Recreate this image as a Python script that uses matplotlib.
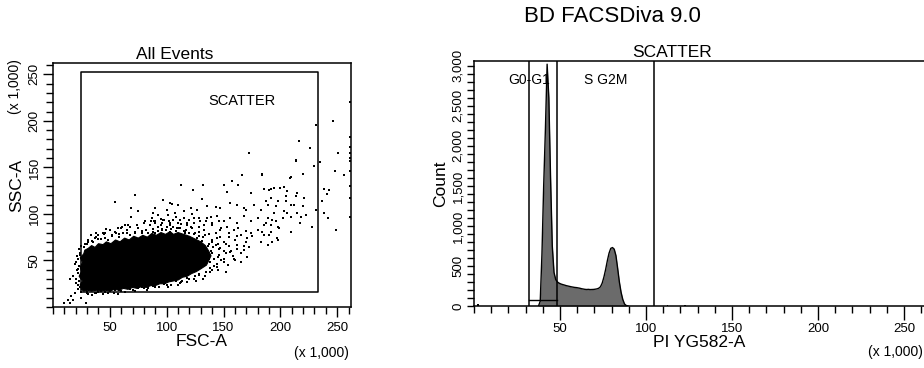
import numpy as np
import matplotlib.pyplot as plt
from matplotlib.ticker import MultipleLocator, FuncFormatter

plt.rcParams['font.family'] = ['Liberation Sans', 'DejaVu Sans']

# ---------------- data (channel values in thousands) ----------------
# dense core of the FSC/SSC cloud, outline
blob_fsc = [25, 24, 26, 23, 25, 24, 26, 24, 27, 28, 31,
            34, 37, 40, 44, 47, 51, 55, 59, 63, 67, 71, 75, 79, 83, 87, 91, 95, 99, 103, 106,
            110, 115, 120, 125, 130, 134, 137, 139, 137, 135, 130,
            126, 122, 118, 114, 110, 106, 102, 98, 94, 90, 86, 82, 78, 74, 70, 66, 62, 58,
            54, 50, 46, 42, 38, 34, 30, 27]
blob_ssc = [19, 24, 28, 33, 38, 43, 48, 53, 57, 61, 63,
            66, 64, 68, 67, 70, 68, 72, 70, 74, 72, 76, 74, 77, 75, 79, 77, 80, 78, 81, 78,
            80, 78, 76, 73, 70, 66, 60, 55, 50, 45, 41,
            38, 36, 33, 32, 29, 28, 27, 25, 25, 23, 23, 21, 22, 20, 21, 19, 20, 18,
            19, 17, 18, 17, 18, 17, 18, 17]

# single events on the edge of the core
edge_fsc = [28, 31, 35, 38, 42, 45, 48, 52, 55, 58, 62, 65, 68, 72, 75, 78, 82, 85, 88, 92,
            96, 99, 103, 106, 110, 113, 117, 121, 125, 128, 131,
            30, 34, 40, 44, 50, 54, 58, 63, 68, 72, 78, 84, 88, 93, 98, 104, 108, 113, 118,
            124, 128, 134, 138,
            22, 20, 21, 19, 21, 23, 25,
            134, 137, 139, 136, 142, 145, 33, 47, 61, 89, 116, 57, 83, 101,
            140, 143, 147, 150, 152, 155, 158, 160, 147, 143, 137, 133, 128, 124, 120, 115,
            108, 101, 95, 92, 86, 80, 74, 68, 63, 57, 50, 44, 38, 150, 154, 157, 162, 165,
            168, 170, 162, 155, 148, 140, 135, 128, 122, 145, 152, 160, 133, 118, 106, 112,
            98, 90, 155, 146, 139, 163, 170, 175, 172]
edge_ssc = [68, 72, 70, 75, 73, 78, 72, 77, 80, 75, 79, 83, 77, 81, 85, 79, 83, 88, 81, 86,
            90, 83, 88, 93, 85, 89, 83, 86, 80, 76, 71,
            15, 13, 16, 14, 17, 15, 18, 16, 19, 17, 21, 20, 23, 22, 25, 24, 28, 27, 31,
            30, 35, 33, 38,
            24, 30, 40, 46, 55, 62, 66,
            45, 52, 60, 66, 44, 54, 77, 84, 86, 92, 80, 14, 18, 21,
            72, 67, 63, 70, 58, 65, 55, 72, 75, 80, 78, 83, 86, 90, 93, 96,
            97, 99, 95, 99, 92, 90, 88, 86, 88, 85, 83, 80, 79, 48, 45, 60, 62, 58,
            66, 70, 76, 80, 85, 88, 92, 96, 100, 40, 38, 50, 88, 90, 86, 94,
            93, 90, 75, 92, 97, 85, 82, 76, 64]

# single events around the core and in the tail
events_fsc = [
    132, 134, 136, 133, 138, 140, 142, 135, 138, 144, 146, 141, 137, 130, 127, 124, 120, 115,
    112, 108, 104, 100, 96, 92, 128, 132, 120, 126, 112, 140, 148, 150, 145, 132, 118, 110,
    102, 95, 88, 84, 78, 72, 65, 58, 52, 46, 40, 34, 30, 27, 24, 22, 23, 22, 23, 24, 30, 38,
    46, 60, 70, 80, 90, 100, 110, 118,
    10, 13, 16, 14.6, 19, 17.5, 22, 25, 29, 31, 20.5, 17.5, 14.6, 22, 20.5, 23.5, 36.7, 42.6,
    48.5, 54.4, 75, 90, 98.7, 113.5, 125,
    31, 36.7, 39.6, 45.6, 54.4, 60, 66, 69, 75, 81, 87, 90, 103, 69, 72, 54.4,
    97, 104.6, 110, 88, 92.7, 100, 107.5, 115, 121, 126.7, 135.6, 143, 147, 156, 162, 168,
    169.5, 177, 182.7, 188.7, 196, 203, 209, 215, 205, 90, 97, 103, 112, 118, 123.7, 129.6,
    135.6, 140, 144.4, 150, 156, 162, 168, 174, 180, 187, 193, 197.5, 174, 180, 185.7, 191.6,
    197, 182.7, 188.7, 171, 165, 159, 153, 147, 162, 168, 156, 150, 159, 146, 140, 134, 128,
    122, 116, 109, 103, 95.7, 90, 144.4, 151.8, 138.5, 144.4, 165, 171,
    172, 214, 166.5, 184, 209, 112.5, 132, 150, 163, 157.7, 123, 153, 174, 190, 203, 215,
    131,
    246, 231, 216, 226, 251, 214, 230, 235, 248, 256, 208.7, 219.6, 238.8, 243, 241, 237,
    231, 238, 241.8, 249, 227.6, 217.5, 209, 221, 213.7, 206, 200, 194.5, 191.6, 185.7, 184,
    205, 197.5, 191.6, 187, 219.6, 212, 222.6, 218, 209, 202, 194.5, 196, 188.7, 185.7,
    191.6, 199, 190, 184, 193, 197.5, 205.8,
    261, 261, 261, 261, 261, 261, 261, 261, 261, 261]
events_ssc = [
    45, 50, 55, 62, 48, 58, 52, 38, 42, 46, 56, 64, 68, 70, 74, 78, 80, 82,
    85, 82, 84, 86, 84, 82, 34, 30, 30, 28, 26, 40, 50, 60, 68, 75, 88, 90,
    92, 88, 84, 80, 82, 80, 79, 78, 76, 74, 73, 71, 68, 64, 58, 52, 44, 36, 28, 22, 16, 15,
    16, 17, 18, 20, 22, 24, 24, 27,
    4.4, 8, 11.7, 4.4, 15, 8, 19, 9.8, 4.4, 13.5, 26, 33.6, 30, 40.8, 48, 55.5, 15, 17,
    15, 18, 20.8, 22.6, 26, 28, 33.6,
    70, 73.6, 77, 79, 81, 84.6, 88, 97, 103, 92, 95.5, 106.5, 112, 106.5, 120, 113,
    114.5, 111, 110, 101, 99, 104.7, 101, 103, 106.5, 104.7, 108, 107, 106.5, 112, 110, 106.5,
    104.7, 110, 104.7, 110, 108, 103, 110, 101, 114, 92, 93.8, 90, 93.8, 90, 95.5, 92,
    95.5, 90, 97.4, 92, 95.5, 90, 97.4, 92, 95.5, 90, 93.8, 86.4, 79, 82.8, 77, 81,
    73.6, 70, 66.4, 73.6, 77, 82.8, 86.4, 82.8, 66.4, 61, 59, 51.7, 51.7, 62.7, 70, 77, 81,
    84.6, 81, 84.6, 81, 82.8, 79, 73.6, 68, 48, 42.7, 48, 53.6,
    165.5, 157, 142, 142, 140, 131, 131, 131, 131, 135.6, 126, 123.6, 122, 126, 129, 122,
    116,
    199.5, 196, 178.7, 171, 165.5, 157.5, 152, 155.7, 146.6, 142, 139, 143, 126.6, 125.5, 121, 113.8,
    104.7, 101, 96, 82.8, 86.4, 90, 81, 117, 119, 124.7, 128, 128, 126.6, 126.6, 143,
    119, 114, 117, 114, 108, 110, 99, 97, 97, 95.5, 101, 92.7, 95.5, 88,
    88, 84.6, 77, 81, 70, 72, 101,
    220, 183, 172, 165, 157, 146.6, 130, 117, 97, 160]
gate_fsc = [25, 233]
gate_ssc = [16, 253]

# PI histogram, 1k wide bins starting at pi_first
pi_first = 37
pi_counts = [0, 60, 650, 1500, 2200, 3020, 2600, 1600, 750, 420, 330, 300, 285, 275,
             268, 262, 255, 250, 245, 240, 236, 232, 230, 226, 222, 216, 212, 208, 206,
             208, 205, 206, 207, 210, 214, 222, 240, 285, 360, 455, 565, 660, 720, 730,
             710, 630, 470, 300, 170, 80, 25, 6, 0]
stray_pi = [2, 112, 122]
stray_counts = [25, 12, 18]
g01_gate = [32, 48.3]
sg2m_gate = [48.3, 104.7]
g01_level = 75

W, H = 924, 368
fig = plt.figure(figsize=(W / 100, H / 100), dpi=100)


def box(x0, y0, x1, y1):
    return [x0 / W, 1 - y1 / H, (x1 - x0) / W, (y1 - y0) / H]


def style(ax):
    for s in ax.spines.values():
        s.set_linewidth(1.1)
    ax.tick_params(which='both', direction='out', width=1.0, labelsize=9.5)
    ax.tick_params(which='major', length=7)
    ax.tick_params(which='minor', length=5)


# ---------------- left: FSC vs SSC ----------------
ax1 = fig.add_axes(box(53, 63, 351, 307))
ax1.fill(blob_fsc, blob_ssc, color='black', lw=0.8)
ax1.plot(edge_fsc, edge_ssc, 's', color='black', ms=1.6, mew=0)
ax1.plot(events_fsc, events_ssc, 's', color='black', ms=1.5, mew=0, clip_on=False)
ax1.plot([gate_fsc[0], gate_fsc[1], gate_fsc[1], gate_fsc[0], gate_fsc[0]],
         [gate_ssc[0], gate_ssc[0], gate_ssc[1], gate_ssc[1], gate_ssc[0]],
         color='black', lw=1.1)
ax1.text(166, 221, 'SCATTER', ha='center', va='center', fontsize=10.5)
ax1.set_xlim(0, 262.144)
ax1.set_ylim(0, 262.144)
style(ax1)
ax1.set_xticks([50, 100, 150, 200, 250])
ax1.set_yticks([50, 100, 150, 200, 250])
ax1.xaxis.set_minor_locator(MultipleLocator(10))
ax1.yaxis.set_minor_locator(MultipleLocator(10))
ax1.tick_params(axis='x', pad=4)
ax1.tick_params(axis='y', labelrotation=90, pad=2)
for lb in ax1.get_yticklabels():
    lb.set_va('center')
ax1.set_xlabel('FSC-A', fontsize=12.5, labelpad=0)
ax1.set_ylabel('SSC-A', fontsize=12.5, labelpad=3)
ax1.set_title('All Events', fontsize=12.5, x=0.41, pad=3)

# ---------------- right: PI histogram ----------------
ax2 = fig.add_axes(box(474, 61, 925, 306))
centers = pi_first + 0.5 + np.arange(len(pi_counts))
ax2.fill_between(centers, pi_counts, color='#6b6b6b', lw=0)
ax2.plot(centers, pi_counts, color='black', lw=1.0)
ax2.bar(stray_pi, stray_counts, width=1, align='edge', color='black')
for xg in [g01_gate[0], g01_gate[1], sg2m_gate[1]]:
    ax2.axvline(xg, color='black', lw=1.1)
ax2.plot(g01_gate, [g01_level, g01_level], color='black', lw=1.0)
ax2.text(32, 2820, 'G0-G1', ha='center', va='center', fontsize=10)
ax2.text(76.6, 2820, 'S G2M', ha='center', va='center', fontsize=10)
ax2.set_xlim(0, 262.144)
ax2.set_ylim(0, 3060)
style(ax2)
ax2.set_xticks([50, 100, 150, 200, 250])
ax2.xaxis.set_minor_locator(MultipleLocator(10))
ax2.yaxis.set_major_locator(MultipleLocator(500))
ax2.yaxis.set_minor_locator(MultipleLocator(100))
ax2.yaxis.set_major_formatter(FuncFormatter(lambda v, p: f'{int(v):,}'))
ax2.tick_params(axis='x', which='major', length=10, pad=2)
ax2.tick_params(axis='y', which='major', length=5)
ax2.tick_params(axis='y', labelrotation=90, pad=2)
for lb in ax2.get_yticklabels():
    lb.set_va('center')
ax2.set_xlabel('PI YG582-A', fontsize=12.5, labelpad=0)
ax2.set_ylabel('Count', fontsize=12.5, labelpad=3)
ax2.set_title('SCATTER', fontsize=12.5, x=0.44, pad=3)

fig.text(321.7 / W, 1 - 353 / H, '(x 1,000)', ha='center', va='center', fontsize=10)
fig.text(923 / W, 1 - 352 / H, '(x 1,000)', ha='right', va='center', fontsize=10)
fig.text(15 / W, 1 - 87 / H, '(x 1,000)', ha='center', va='center', fontsize=10, rotation=90)
fig.text(612 / W, 1 - 17 / H, 'BD FACSDiva 9.0', ha='center', va='center', fontsize=16)

fig.savefig('out.png', dpi=100)
